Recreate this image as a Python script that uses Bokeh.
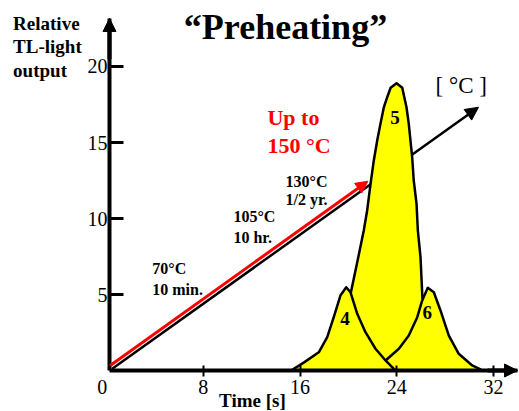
from bokeh.plotting import figure
from bokeh.models import Range1d, Label, Arrow, NormalHead, FixedTicker
from bokeh.embed import file_html
from bokeh.resources import INLINE

# ---- data ----
x_ticks = [8, 16, 24, 32]
y_ticks = [5, 10, 15, 20]

peak4_x = [15.3, 15.49, 16.37, 17.55, 18.25, 18.79, 19.34, 19.82, 20.17, 20.73, 21.41, 22.24, 23.07, 23.75, 23.9]
peak4_y = [0.0, 0.11, 0.55, 1.20, 2.19, 3.51, 4.93, 5.48, 5.15, 3.73, 2.52, 1.43, 0.66, 0.11, 0.0]

peak5_x = [20.2, 20.7, 21.27, 21.55, 21.83, 22.10, 22.38, 22.65, 22.93, 23.21, 23.49, 23.98,
           24.45, 24.80, 24.99, 25.13, 25.27, 25.40, 25.63, 25.74, 25.96, 26.12]
peak5_y = [5.12, 7.0, 9.21, 10.53, 12.28, 13.82, 15.13, 16.23, 17.32, 17.98, 18.6, 18.9,
           18.6, 17.32, 16.23, 15.13, 14.03, 12.5, 10.97, 9.21, 7.45, 4.7]

peak6_x = [23.07, 24.17, 24.99, 25.69, 26.10, 26.56, 27.06, 27.61, 28.30, 29.12, 30.23, 30.92, 31.06]
peak6_y = [0.66, 1.43, 2.30, 3.51, 4.61, 5.44, 5.15, 3.95, 2.30, 1.10, 0.33, 0.07, 0.0]

peak_labels = ["4", "5", "6"]
heat_start = (0.48, 0.11)      # black temperature ramp
heat_end = (30.75, 17.32)
preheat_start = (0.32, 0.33)   # red preheating ramp
preheat_end = (21.61, 12.45)

SERIF = "Liberation Serif"

X_AXIS_AT = 0.256     # where the vertical axis stands
X_END = 33.98         # tip of time axis arrow
Y_END = 23.16         # tip of signal axis arrow

p = figure(width=519, height=411,
           x_range=Range1d(-8.752, 34.14), y_range=Range1d(-2.697, 24.342),
           output_backend="svg", toolbar_location=None,
           min_border_left=0, min_border_right=0,
           min_border_top=0, min_border_bottom=0)
p.outline_line_color = None
p.xgrid.visible = False
p.ygrid.visible = False
p.background_fill_color = "white"
p.border_fill_color = "white"

# axes (fixed inside the frame)
for ax in (p.xaxis[0], p.yaxis[0]):
    ax.axis_line_width = 4
    ax.axis_line_color = "black"
    ax.minor_tick_line_color = None
    ax.major_label_text_font = SERIF
    ax.major_label_text_font_size = "20px"
    ax.major_label_text_color = "black"

p.xaxis.fixed_location = 0
p.xaxis.bounds = (X_AXIS_AT, X_END)
p.xaxis.ticker = FixedTicker(ticks=x_ticks)
p.xaxis.major_tick_in = 5
p.xaxis.major_tick_out = 6
p.xaxis.major_tick_line_width = 2
p.xaxis.major_label_standoff = 3

p.yaxis.fixed_location = X_AXIS_AT
p.yaxis.bounds = (0, Y_END)
p.yaxis.ticker = FixedTicker(ticks=y_ticks)
p.yaxis.major_tick_in = 14
p.yaxis.major_tick_out = 0
p.yaxis.major_tick_line_width = 3
p.yaxis.major_label_standoff = 2

# axis arrow heads
p.add_layout(Arrow(end=NormalHead(size=13, fill_color="black", line_color="black"),
                   x_start=X_AXIS_AT, y_start=20.5, x_end=X_AXIS_AT, y_end=Y_END,
                   line_width=4, line_color="black"))
p.add_layout(Arrow(end=NormalHead(size=13, fill_color="black", line_color="black"),
                   x_start=31.5, y_start=0, x_end=X_END, y_end=0,
                   line_width=4, line_color="black"))

# black temperature ramp behind the glow peaks
p.add_layout(Arrow(end=NormalHead(size=13, fill_color="black", line_color="black"),
                   x_start=heat_start[0], y_start=heat_start[1],
                   x_end=heat_end[0], y_end=heat_end[1],
                   line_width=2.5, line_color="black", level="underlay"))

# glow curve envelope fill
env_x, env_y = [], []
for xx, yy in zip(peak4_x, peak4_y):
    if xx <= peak5_x[0]:
        env_x.append(xx); env_y.append(yy)
env_x += peak5_x
env_y += peak5_y
for xx, yy in zip(peak6_x, peak6_y):
    if xx > peak5_x[-1]:
        env_x.append(xx); env_y.append(yy)
p.patch(env_x, env_y, fill_color="#FFFF00", line_color=None)

for xs, ys in ((peak4_x, peak4_y), (peak5_x, peak5_y), (peak6_x, peak6_y)):
    p.line(xs, ys, line_color="black", line_width=2.5, line_join="round")

# red preheating ramp
p.add_layout(Arrow(end=NormalHead(size=12, fill_color="red", line_color="red"),
                   x_start=preheat_start[0], y_start=preheat_start[1],
                   x_end=preheat_end[0], y_end=preheat_end[1],
                   line_width=3, line_color="red"))

def lab(text, x, y, size, bold=False, color="black", align="left"):
    p.add_layout(Label(x=x, y=y, text=text, text_font=SERIF, text_font_size=size,
                       text_font_style="bold" if bold else "normal",
                       text_color=color, text_align=align, text_baseline="middle"))

# title
lab("\u201cPreheating\u201d", 14.8, 22.6, "36px", bold=True, align="center")
# y axis title
lab("Relative", -7.71, 22.83, "19px", bold=True)
lab("TL-light", -7.71, 21.3, "19px", bold=True)
lab("output", -7.71, 19.71, "19px", bold=True)
# x axis title and origin label
lab("Time [s]", 12.07, -1.97, "19px", bold=True, align="center")
lab("0", -0.35, -1.11, "20px", align="center")

# annotations
lab("Up to", 13.31, 16.64, "22px", bold=True, color="red")
lab("150 \u00b0C", 13.31, 14.77, "22px", bold=True, color="red")
lab("[ \u00b0C ]", 27.2, 18.72, "23px")
lab("130\u00b0C", 14.8, 12.43, "16px", bold=True)
lab("1/2 yr.", 14.8, 11.25, "16px", bold=True)
lab("105\u00b0C", 10.5, 10.1, "16px", bold=True)
lab("10 hr.", 10.5, 8.76, "16px", bold=True)
lab("70\u00b0C", 3.79, 6.68, "16px", bold=True)
lab("10 min.", 3.79, 5.35, "16px", bold=True)

lab(peak_labels[0], 19.72, 3.45, "19px", bold=True, align="center")
lab(peak_labels[1], 23.85, 16.63, "19px", bold=True, align="center")
lab(peak_labels[2], 26.51, 3.82, "19px", bold=True, align="center")

open("out.html", "w").write(file_html(p, INLINE))
